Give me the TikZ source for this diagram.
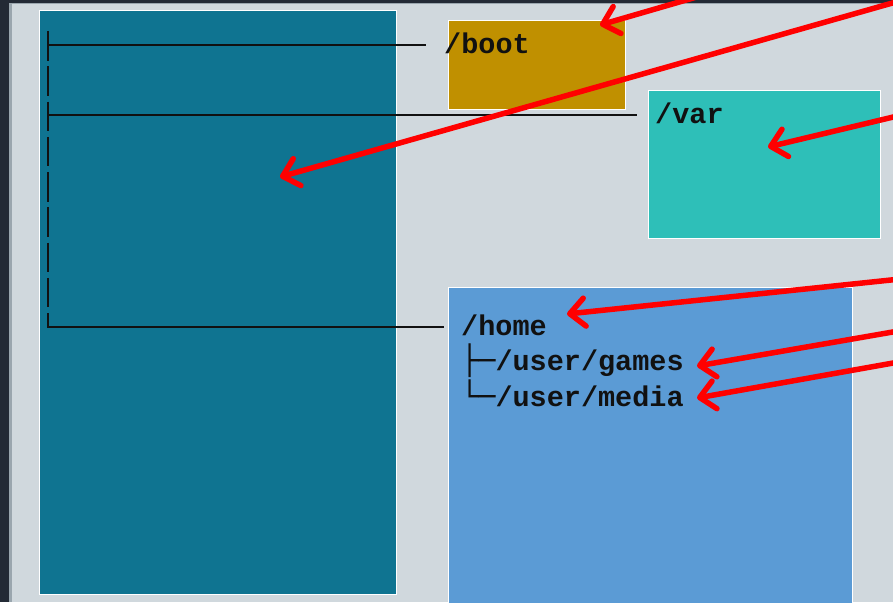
\documentclass[tikz,border=0pt]{standalone}
\usepackage{fontspec}
\setmonofont{Liberation Mono}
\newfontfamily\boxfont{DejaVu Sans Mono}
\usetikzlibrary{arrows.meta}
\definecolor{frameC}{HTML}{232A35}
\definecolor{edgeC}{HTML}{9AA6AE}
\definecolor{bgC}{HTML}{D0D8DD}
\definecolor{rootC}{HTML}{0F7491}
\definecolor{bootC}{HTML}{C09000}
\definecolor{varC}{HTML}{2EBFB8}
\definecolor{homeC}{HTML}{5B9BD5}
\definecolor{inkC}{HTML}{111111}
\begin{document}
\begin{tikzpicture}[x=1pt,y=-1pt,
  panel/.style={draw=white, line width=1pt, rectangle, inner sep=0pt, anchor=north west},
  lbl/.style={font=\fontsize{28.5}{35}\selectfont\ttfamily\bfseries, anchor=base west, inner sep=0pt, text=inkC},
  treeline/.style={line width=2pt, draw=inkC},
  redarrow/.style={draw=red, line width=5.5pt, line cap=round,
    -{Straight Barb[length=15pt,width=28pt,line cap=round,line join=round]}}]
\useasboundingbox (0,0) rectangle (893,602);
\clip (0,0) rectangle (893,602);
% window frame
\fill[bgC] (0,0) rectangle (893,602);
\fill[edgeC] (0,0) rectangle (893,4.5);
\fill[edgeC] (0,0) rectangle (12,602);
\fill[frameC] (0,0) rectangle (893,3);
\fill[frameC] (0,0) rectangle (9,602);
% panels
\node[panel, fill=rootC, minimum width=357pt, minimum height=584pt] (root) at (39,10) {};
\node[panel, fill=bootC, minimum width=177pt, minimum height=89pt] (bootbox) at (448,20) {};
\node[panel, fill=varC, minimum width=232pt, minimum height=148pt] (varbox) at (648,90) {};
\node[panel, fill=homeC, minimum width=404pt, minimum height=330pt] (homebox) at (448,287) {};
% labels
\node[lbl] (boot) at (444,53) {/boot};
\node[lbl] (var) at (655,123) {/var};
\node[lbl] (home) at (461,335) {/home};
\node[lbl] (games) at (461,370) {{\boxfont\mdseries ├─}/user/games};
\node[lbl] (media) at (461,406) {{\boxfont\mdseries └─}/user/media};
% tree lines
\foreach \r in {0,...,7} {
  \draw[treeline] (48,{45+35.25*\r-14}) -- (48,{45+35.25*\r+15.5});
}
\draw[treeline] (48,{45+35.25*8-14}) -- (48,{45+35.25*8});
\coordinate (t0) at (47,45);
\coordinate (e0) at (426,45);
\coordinate (t2) at (47,115);
\coordinate (e2) at (637,115);
\coordinate (t8) at (47,327);
\coordinate (e8) at (444,327);
\draw[treeline] (t0) -- (e0);
\draw[treeline] (t2) -- (e2);
\draw[treeline] (t8) -- (e8);
% red arrows
\coordinate (s1) at (700,-4);   \coordinate (p1) at (600,25);
\coordinate (s2) at (910,-2);   \coordinate (p2) at (280,177);
\coordinate (s3) at (910,113);  \coordinate (p3) at (768,147);
\coordinate (s4) at (910,278);  \coordinate (p4) at (567,314);
\coordinate (s5) at (910,329);  \coordinate (p5) at (697,366);
\coordinate (s6) at (910,360);  \coordinate (p6) at (697,398);
\draw[redarrow] (s1) -- (p1);
\draw[redarrow] (s2) -- (p2);
\draw[redarrow] (s3) -- (p3);
\draw[redarrow] (s4) -- (p4);
\draw[redarrow] (s5) -- (p5);
\draw[redarrow] (s6) -- (p6);
\end{tikzpicture}
\end{document}
